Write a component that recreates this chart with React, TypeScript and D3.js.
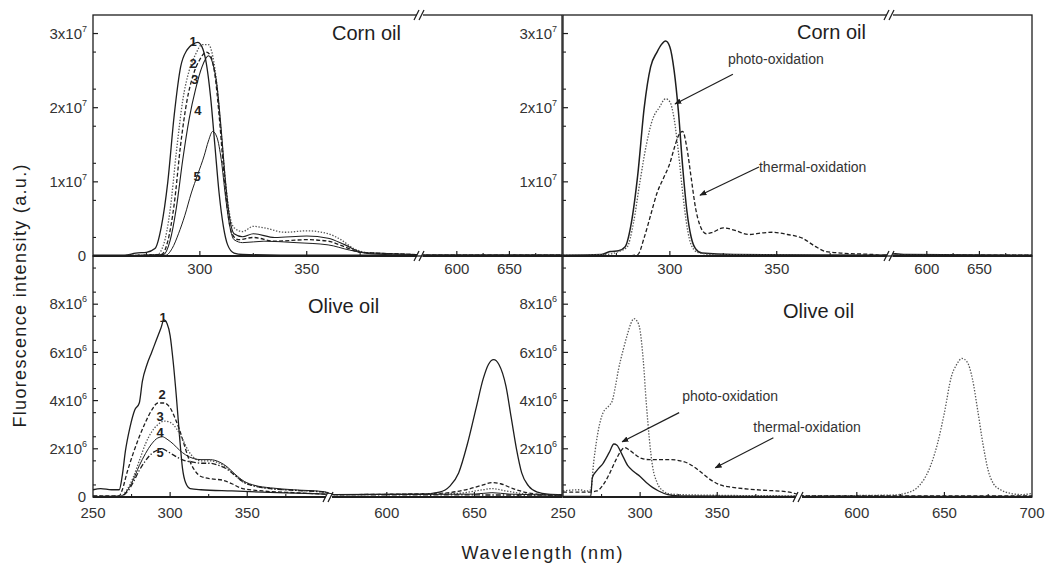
import React from 'react';
import * as d3 from 'd3';

type Pt = [number, number];

// wavelength (nm), intensity. top row in units of 1e7, bottom row in units of 1e6
const cornCurve1: Pt[] = [[250, 0.01], [265, 0.01], [270, 0.04], [275, 0.05], [279, 0.1], [282, 0.4], [285, 1.0], [288, 1.9], [291, 2.55], [294, 2.78], [297, 2.86], [299, 2.88], [301, 2.82], [303, 2.6], [305, 2.15], [307, 1.5], [309, 0.85], [311, 0.4], [313, 0.15], [316, 0.04], [320, 0.02], [350, 0.01], [400, 0.01], [570, 0.01], [700, 0.01]];
const cornCurve2: Pt[] = [[250, 0], [280, 0.02], [283, 0.15], [286, 0.6], [289, 1.4], [292, 2.1], [295, 2.5], [298, 2.72], [301, 2.85], [304, 2.85], [306, 2.7], [308, 2.3], [310, 1.65], [312, 1.0], [314, 0.55], [316, 0.38], [320, 0.33], [325, 0.4], [330, 0.38], [340, 0.32], [350, 0.34], [360, 0.3], [366, 0.22], [372, 0.1], [380, 0.04], [400, 0.02], [570, 0.01], [700, 0.01]];
const cornCurve3: Pt[] = [[250, 0], [282, 0.02], [285, 0.2], [288, 0.7], [291, 1.5], [294, 2.1], [297, 2.45], [300, 2.65], [303, 2.75], [305, 2.7], [307, 2.45], [309, 1.9], [311, 1.2], [313, 0.6], [315, 0.3], [318, 0.22], [325, 0.25], [335, 0.2], [350, 0.22], [360, 0.2], [368, 0.12], [375, 0.05], [400, 0.02], [570, 0.01], [700, 0.01]];
const cornCurve4: Pt[] = [[250, 0], [283, 0.02], [286, 0.2], [289, 0.65], [292, 1.3], [295, 1.85], [298, 2.25], [301, 2.55], [304, 2.7], [306, 2.6], [308, 2.3], [310, 1.7], [312, 1.0], [314, 0.5], [316, 0.3], [320, 0.26], [325, 0.3], [335, 0.25], [350, 0.27], [360, 0.24], [368, 0.15], [376, 0.05], [400, 0.02], [570, 0.01], [700, 0.01]];
const cornCurve5: Pt[] = [[250, 0], [284, 0.01], [287, 0.1], [290, 0.3], [293, 0.55], [296, 0.85], [299, 1.1], [302, 1.35], [304, 1.55], [306, 1.68], [308, 1.6], [310, 1.3], [312, 0.8], [314, 0.4], [316, 0.22], [320, 0.18], [330, 0.2], [345, 0.18], [360, 0.15], [370, 0.08], [380, 0.03], [400, 0.01], [570, 0.01], [700, 0.01]];

const cornFresh: Pt[] = [[250, 0.01], [268, 0.02], [272, 0.06], [276, 0.07], [279, 0.12], [282, 0.45], [285, 1.1], [288, 2.0], [291, 2.55], [294, 2.75], [296, 2.85], [298, 2.9], [300, 2.82], [302, 2.5], [304, 1.95], [306, 1.2], [308, 0.6], [310, 0.25], [312, 0.1], [315, 0.04], [330, 0.02], [400, 0.01], [570, 0.03], [580, 0.02], [700, 0.01]];
const cornPhoto: Pt[] = [[250, 0.01], [270, 0.02], [276, 0.06], [280, 0.12], [283, 0.45], [286, 1.0], [289, 1.5], [292, 1.85], [295, 2.0], [298, 2.12], [300, 2.08], [302, 1.85], [304, 1.4], [306, 0.85], [308, 0.4], [310, 0.15], [313, 0.05], [320, 0.02], [400, 0.01], [570, 0.01], [700, 0.01]];
const cornThermal: Pt[] = [[250, 0], [280, 0], [285, 0.02], [288, 0.25], [291, 0.55], [294, 0.85], [297, 1.05], [300, 1.25], [302, 1.45], [304, 1.62], [306, 1.68], [308, 1.45], [310, 1.05], [312, 0.65], [314, 0.42], [317, 0.3], [320, 0.32], [325, 0.38], [330, 0.35], [337, 0.29], [343, 0.31], [348, 0.32], [355, 0.29], [362, 0.24], [368, 0.13], [373, 0.06], [380, 0.04], [395, 0.02], [400, 0.01], [570, 0.01], [700, 0.01]];

const oliveCurve1: Pt[] = [[250, 0.3], [255, 0.35], [262, 0.3], [267, 0.3], [269, 0.9], [271, 1.9], [274, 2.9], [277, 3.6], [280, 3.9], [282, 4.8], [285, 5.5], [288, 6.0], [291, 6.5], [294, 7.0], [296, 7.35], [298, 7.2], [300, 6.7], [302, 5.6], [304, 4.2], [306, 2.6], [308, 1.2], [310, 0.6], [313, 0.35], [320, 0.3], [340, 0.25], [370, 0.18], [400, 0.12], [570, 0.1], [620, 0.12], [630, 0.2], [636, 0.45], [641, 1.0], [646, 2.2], [651, 3.7], [655, 4.9], [658, 5.5], [661, 5.7], [664, 5.5], [668, 4.6], [671, 3.3], [674, 2.0], [677, 1.0], [681, 0.45], [686, 0.2], [692, 0.12], [700, 0.1]];
const oliveCurve2: Pt[] = [[250, 0.05], [267, 0.05], [269, 0.3], [272, 1.0], [276, 1.8], [280, 2.5], [284, 3.1], [288, 3.6], [292, 3.9], [296, 3.9], [300, 3.7], [303, 3.3], [306, 2.8], [309, 2.2], [312, 1.6], [316, 1.1], [320, 0.85], [327, 0.75], [334, 0.7], [340, 0.55], [347, 0.35], [360, 0.25], [380, 0.18], [400, 0.12], [570, 0.1], [630, 0.15], [645, 0.3], [655, 0.5], [660, 0.6], [665, 0.55], [672, 0.35], [680, 0.18], [690, 0.1], [700, 0.08]];
const oliveCurve3: Pt[] = [[250, 0.02], [268, 0.03], [272, 0.3], [276, 0.8], [280, 1.5], [284, 2.2], [288, 2.7], [292, 3.0], [296, 3.15], [300, 3.1], [304, 2.85], [308, 2.4], [312, 1.9], [316, 1.6], [320, 1.5], [326, 1.5], [332, 1.4], [337, 1.2], [342, 0.9], [348, 0.6], [355, 0.45], [365, 0.35], [380, 0.28], [400, 0.2], [570, 0.1], [640, 0.15], [655, 0.3], [660, 0.35], [668, 0.25], [680, 0.12], [700, 0.08]];
const oliveCurve4: Pt[] = [[250, 0.02], [268, 0.03], [272, 0.25], [276, 0.7], [280, 1.3], [284, 1.8], [288, 2.2], [292, 2.45], [295, 2.5], [298, 2.4], [302, 2.2], [306, 1.95], [310, 1.75], [315, 1.6], [320, 1.55], [326, 1.55], [332, 1.45], [337, 1.25], [342, 0.95], [348, 0.65], [355, 0.48], [365, 0.38], [380, 0.3], [400, 0.22], [570, 0.1], [650, 0.12], [660, 0.18], [670, 0.12], [700, 0.08]];
const oliveCurve5: Pt[] = [[250, 0.02], [268, 0.03], [272, 0.2], [276, 0.6], [280, 1.1], [284, 1.5], [288, 1.8], [292, 1.95], [295, 2.0], [298, 1.9], [302, 1.75], [306, 1.6], [310, 1.5], [315, 1.45], [320, 1.4], [326, 1.4], [332, 1.3], [337, 1.15], [342, 0.9], [348, 0.6], [355, 0.45], [365, 0.35], [380, 0.28], [400, 0.2], [570, 0.1], [700, 0.08]];

const oliveFresh: Pt[] = [[250, 0.25], [260, 0.3], [266, 0.25], [268, 0.3], [270, 1.5], [273, 2.8], [276, 3.5], [280, 3.8], [282, 4.0], [284, 4.6], [286, 5.3], [289, 6.1], [292, 6.8], [294, 7.2], [296, 7.4], [298, 7.3], [300, 6.9], [302, 5.7], [304, 3.9], [306, 2.4], [308, 1.3], [311, 0.6], [315, 0.25], [320, 0.12], [340, 0.08], [400, 0.05], [570, 0.05], [620, 0.08], [630, 0.2], [636, 0.5], [641, 1.1], [646, 2.2], [650, 3.5], [654, 5.0], [657, 5.5], [660, 5.75], [663, 5.6], [666, 4.9], [669, 3.6], [672, 2.2], [675, 1.1], [678, 0.55], [682, 0.3], [688, 0.15], [694, 0.1], [700, 0.15]];
const olivePhoto: Pt[] = [[250, 0.02], [268, 0.03], [269, 0.8], [272, 1.1], [276, 1.4], [280, 1.85], [283, 2.2], [285, 2.15], [288, 1.8], [292, 1.3], [296, 1.05], [300, 0.85], [304, 0.6], [308, 0.4], [312, 0.25], [318, 0.1], [325, 0.05], [400, 0.02], [570, 0.02], [700, 0.02]];
const oliveThermal: Pt[] = [[250, 0.2], [265, 0.2], [272, 0.25], [276, 0.5], [280, 0.95], [284, 1.5], [288, 1.95], [290, 2.05], [293, 1.95], [297, 1.75], [301, 1.6], [306, 1.55], [313, 1.55], [320, 1.55], [326, 1.5], [331, 1.4], [336, 1.2], [341, 0.95], [346, 0.7], [352, 0.5], [360, 0.4], [370, 0.33], [380, 0.28], [395, 0.22], [400, 0.15], [570, 0.05], [700, 0.05]];

// curve numbers: [label, nm, value]
const cornNumbers: [string, number, number][] = [['1', 296.8, 2.89], ['2', 296.8, 2.59], ['3', 297.7, 2.38], ['4', 299.1, 1.96], ['5', 298.7, 1.07]];
const oliveNumbers: [string, number, number][] = [['1', 295.5, 7.46], ['2', 294.8, 4.25], ['3', 293.5, 3.33], ['4', 293.5, 2.67], ['5', 293.5, 1.83]];

const topXTicks = [300, 350, 600, 650];
const topXMinor = [275, 325, 375, 625, 675];
const bottomLeftXTicks = [250, 300, 350, 600, 650];
const bottomRightXTicks = [250, 300, 350, 600, 650, 700];
const bottomXMinor = [275, 325, 375, 625, 675];
const topYTicks = [0, 1, 2, 3];
const bottomYTicks = [0, 2, 4, 6, 8];

const ink = '#1e1e1e';
const font = '"Liberation Sans", Arial, sans-serif';

const dashes: Record<string, string | undefined> = {
  solid: undefined,
  dot: '1.4,1.6',
  dash: '4,2.2',
  dashdot: '5,2,1.4,2',
};

type Series = { data: Pt[]; style: string; color?: string; width?: number };
type Note = { text: string; tx: number; ty: number; ax: number; ay: number; hx: number; hy: number };

interface PanelProps {
  id: string;
  x0: number;
  y0: number;
  y1: number;
  yMax: number;
  exp: number;
  yTicks: number[];
  yMinorStep: number;
  zeroLabel: boolean;
  seg1: [number, number];
  seg2: [number, number];
  breakPx: number;
  xTicks: number[];
  xMinor: number[];
  xLabelDy: number;
  topBreak: boolean;
  series: Series[];
  title: string;
  titleX: number;
  titleY: number;
  numbers?: [string, number, number][];
  notes?: Note[];
}

const PW = 469;

function Panel(p: PanelProps) {
  const s1 = d3.scaleLinear().domain(p.seg1).range([p.x0, p.x0 + p.breakPx]);
  const s2 = d3.scaleLinear().domain(p.seg2).range([p.x0 + p.breakPx, p.x0 + PW]);
  const x = (v: number) => (v <= p.seg1[1] ? s1(v) : s2(v));
  const y = d3.scaleLinear().domain([0, p.yMax]).range([p.y1, p.y0]);
  const line = d3.line<Pt>().x((d) => x(d[0])).y((d) => y(d[1])).curve(d3.curveMonotoneX);
  const minors = d3.range(p.yMinorStep / 2, p.yMax, p.yMinorStep).filter((v) => !p.yTicks.includes(v));
  const bx = p.x0 + p.breakPx;

  const breakMark = (yy: number, key: string) => (
    <g key={key}>
      <rect x={bx - 3} y={yy - 3} width={6} height={6} fill="white" />
      <line x1={bx - 6} y1={yy + 5} x2={bx - 1} y2={yy - 5} stroke={ink} strokeWidth={1.2} />
      <line x1={bx - 1} y1={yy + 5} x2={bx + 4} y2={yy - 5} stroke={ink} strokeWidth={1.2} />
    </g>
  );

  return (
    <g>
      <clipPath id={`clip-${p.id}`}>
        <rect x={p.x0} y={p.y0} width={PW} height={p.y1 - p.y0} />
      </clipPath>
      <g clipPath={`url(#clip-${p.id})`}>
        {p.series.map((s, i) => (
          <path
            key={i}
            d={line(s.data) || ''}
            fill="none"
            stroke={s.color || ink}
            strokeWidth={s.width || 1.3}
            strokeDasharray={dashes[s.style]}
          />
        ))}
      </g>
      <rect x={p.x0} y={p.y0} width={PW} height={p.y1 - p.y0} fill="none" stroke={ink} strokeWidth={1.3} />
      <line x1={p.x0} x2={p.x0 + PW} y1={p.y1} y2={p.y1} stroke={ink} strokeWidth={1.8} />

      {p.yTicks.map((t) => (
        <g key={`yt${t}`}>
          <line x1={p.x0} x2={p.x0 + 5} y1={y(t)} y2={y(t)} stroke={ink} strokeWidth={1.2} />
          {t === 0 ? (
            p.zeroLabel && (
              <text x={p.x0 - 7} y={y(t)} dy="0.35em" textAnchor="end" fontSize={15} fill="#333" fontFamily={font}>0</text>
            )
          ) : (
            <text x={p.x0 - 6} y={y(t)} dy="0.35em" textAnchor="end" fontSize={15} fill="#333" fontFamily={font}>
              <tspan>{`${t}x10`}</tspan>
              <tspan dy={-7} fontSize={9}>{p.exp}</tspan>
            </text>
          )}
        </g>
      ))}
      {minors.map((t) => (
        <line key={`ym${t}`} x1={p.x0} x2={p.x0 + 3} y1={y(t)} y2={y(t)} stroke={ink} strokeWidth={1.1} />
      ))}

      {p.xTicks.map((t) => (
        <g key={`xt${t}`}>
          {t !== 250 && t !== 700 && (
            <line x1={x(t)} x2={x(t)} y1={p.y1} y2={p.y1 - 5} stroke={ink} strokeWidth={1.2} />
          )}
          <text x={x(t)} y={p.y1 + p.xLabelDy} textAnchor="middle" fontSize={15} fill="#333" fontFamily={font}>{t}</text>
        </g>
      ))}
      {p.xMinor.map((t) => (
        <line key={`xm${t}`} x1={x(t)} x2={x(t)} y1={p.y1} y2={p.y1 - 3} stroke={ink} strokeWidth={1.1} />
      ))}

      {breakMark(p.y1, 'b1')}
      {p.topBreak && breakMark(p.y0, 'b2')}

      <text x={p.x0 + p.titleX} y={p.y0 + p.titleY} fontSize={20} fill={ink} fontFamily={font}>{p.title}</text>

      {p.numbers &&
        p.numbers.map(([lab, nm, v]) => (
          <text key={lab} x={x(nm)} y={y(v)} dy="0.35em" textAnchor="middle" fontSize={13} fontWeight="bold" fill="#222" fontFamily={font}>{lab}</text>
        ))}

      {p.notes &&
        p.notes.map((n) => (
          <g key={n.text}>
            <text x={x(n.tx)} y={y(n.ty)} dy="0.35em" fontSize={14} fill="#333" fontFamily={font}>{n.text}</text>
            <line x1={x(n.ax)} y1={y(n.ay)} x2={x(n.hx)} y2={y(n.hy)} stroke={ink} strokeWidth={1.2} markerEnd="url(#arrow)" />
          </g>
        ))}
    </g>
  );
}

export default function App() {
  const L = 93, M = 563, T = 15, C = 256, B = 497;
  const topCommon = {
    y0: T, y1: C, yMax: 3.25, exp: 7, yTicks: topYTicks, yMinorStep: 0.5,
    seg1: [250, 403] as [number, number], seg2: [565, 700] as [number, number], breakPx: 327,
    xTicks: topXTicks, xMinor: topXMinor, xLabelDy: 18, topBreak: true, title: 'Corn oil',
  };
  const botCommon = {
    y0: C, y1: B, yMax: 10, exp: 6, yTicks: bottomYTicks, yMinorStep: 1,
    seg1: [250, 403] as [number, number], seg2: [567, 700] as [number, number], breakPx: 236,
    xMinor: bottomXMinor, xLabelDy: 21, topBreak: false, title: 'Olive oil',
  };

  return (
    <svg width={1048} height={570} style={{ position: 'absolute', left: 0, top: 0, background: 'white' }}>
      <defs>
        <marker id="arrow" viewBox="0 0 10 10" refX={9} refY={5} markerWidth={7} markerHeight={7} orient="auto" markerUnits="userSpaceOnUse">
          <path d="M0,1 L10,5 L0,9 z" fill={ink} />
        </marker>
      </defs>
      <rect x={0} y={0} width={1048} height={570} fill="white" />

      <Panel
        id="tl" x0={L} {...topCommon} zeroLabel titleX={239} titleY={25}
        series={[
          { data: cornCurve1, style: 'solid' },
          { data: cornCurve2, style: 'dot', color: '#555' },
          { data: cornCurve3, style: 'dash' },
          { data: cornCurve4, style: 'solid', width: 1.1 },
          { data: cornCurve5, style: 'solid', width: 1 },
        ]}
        numbers={cornNumbers}
      />
      <Panel
        id="tr" x0={M} {...topCommon} zeroLabel={false} titleX={234} titleY={24}
        series={[
          { data: cornFresh, style: 'solid', width: 1.5 },
          { data: cornPhoto, style: 'dot', color: '#555' },
          { data: cornThermal, style: 'dash' },
        ]}
        notes={[
          { text: 'photo-oxidation', tx: 327.2, ty: 2.65, ax: 329.5, ay: 2.45, hx: 302.4, hy: 2.05 },
          { text: 'thermal-oxidation', tx: 341.7, ty: 1.2, ax: 341.7, ay: 1.2, hx: 314.1, hy: 0.82 },
        ]}
      />
      <Panel
        id="bl" x0={L} {...botCommon} xTicks={bottomLeftXTicks} zeroLabel titleX={215} titleY={57}
        series={[
          { data: oliveCurve1, style: 'solid' },
          { data: oliveCurve2, style: 'dash' },
          { data: oliveCurve3, style: 'dot', color: '#555' },
          { data: oliveCurve4, style: 'solid', width: 1 },
          { data: oliveCurve5, style: 'dashdot' },
        ]}
        numbers={oliveNumbers}
      />
      <Panel
        id="br" x0={M} {...botCommon} xTicks={bottomRightXTicks} zeroLabel={false} titleX={220} titleY={62}
        series={[
          { data: oliveFresh, style: 'dot', color: '#555' },
          { data: olivePhoto, style: 'solid' },
          { data: oliveThermal, style: 'dash' },
        ]}
        notes={[
          { text: 'photo-oxidation', tx: 327.3, ty: 4.17, ax: 325.3, ay: 3.5, hx: 288.3, hy: 2.29 },
          { text: 'thermal-oxidation', tx: 373.4, ty: 2.92, ax: 386.4, ay: 2.46, hx: 348.7, hy: 1.21 },
        ]}
      />

      <text
        transform="translate(26,296) rotate(-90)" textAnchor="middle" fontSize={18} fill={ink} fontFamily={font}
        textLength={263} lengthAdjust="spacing"
      >
        Fluorescence intensity (a.u.)
      </text>
      <text x={542} y={559} textAnchor="middle" fontSize={18} fill={ink} fontFamily={font} textLength={161} lengthAdjust="spacing">
        Wavelength (nm)
      </text>
    </svg>
  );
}
